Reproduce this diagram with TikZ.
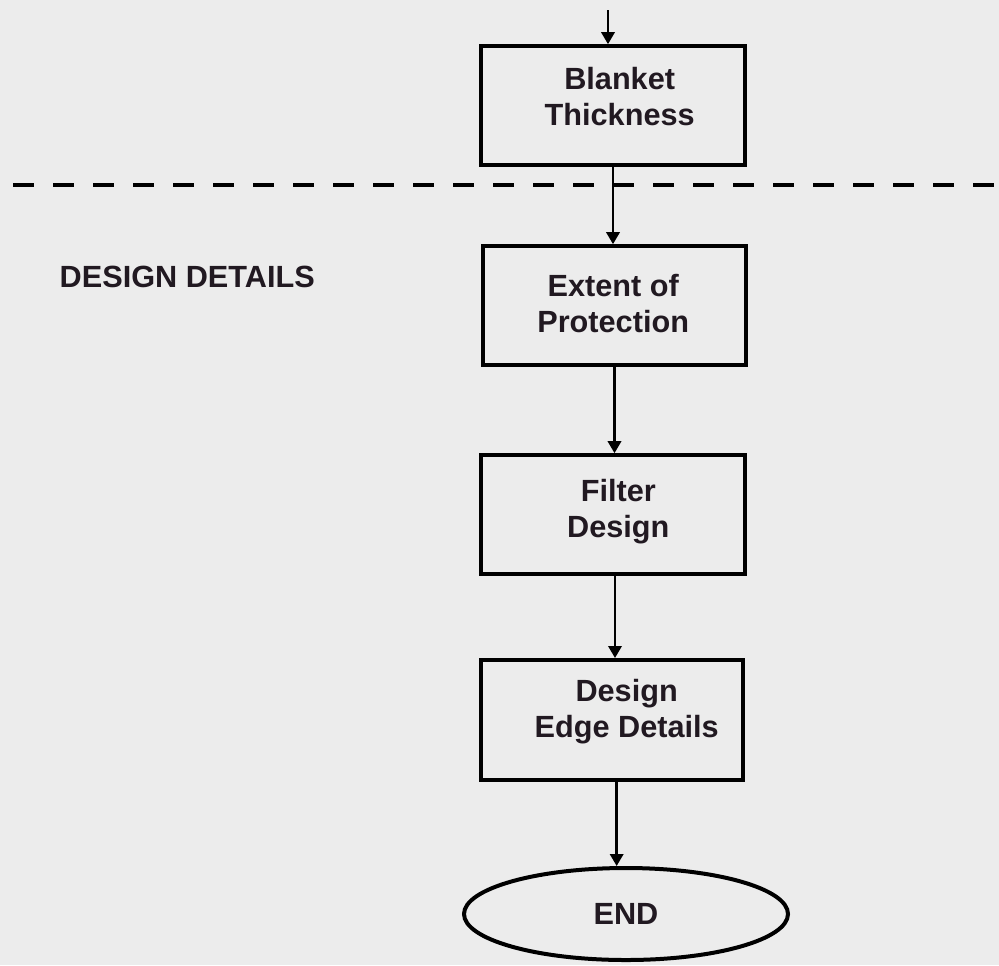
\documentclass[tikz,border=0pt]{standalone}
\usepackage{fontspec}
\setmainfont{Liberation Sans}
\usetikzlibrary{shapes.geometric,arrows.meta,calc}
\definecolor{paper}{rgb}{0.925,0.925,0.925}
\definecolor{ink}{rgb}{0.13,0.10,0.13}
\begin{document}
\begin{tikzpicture}[x=0.75pt,y=-0.75pt,
  txt/.style={font=\fontsize{23}{27}\selectfont\bfseries, text=ink, align=center},
  stepbox/.style={draw=black, line width=3pt, inner sep=0pt, rectangle},
  conn/.style={draw=black, line width=1.8pt, -{Triangle[length=9pt,width=10pt]}},
  ]
\useasboundingbox[fill=paper] (0,0) rectangle (999,965);
% dashed separator
\coordinate (dl) at (13,185);
\coordinate (dr) at (999,185);
\draw[line width=3pt, dash pattern=on 16pt off 14pt] (dl) -- (dr);
\node[txt, anchor=west] (lbl) at (55,277) {DESIGN DETAILS};
% boxes
\node[stepbox, minimum width=198pt, minimum height=89pt,
  label={[txt, xshift=5pt, yshift=6.5pt]center:Blanket\\Thickness}] (b1) at (613,105.5) {};
\node[stepbox, minimum width=197pt, minimum height=89pt,
  label={[txt, xshift=-1pt, yshift=1.5pt]center:Extent of\\Protection}] (b2) at (614.5,305.5) {};
\node[stepbox, minimum width=198pt, minimum height=89pt,
  label={[txt, xshift=4pt, yshift=2.5pt]center:Filter\\Design}] (b3) at (613,514.5) {};
\node[stepbox, minimum width=196.5pt, minimum height=90pt,
  label={[txt, xshift=11pt, yshift=6.5pt]center:Design\\Edge Details}] (b4) at (612,720) {};
\node[ellipse, draw=black, line width=3pt, inner sep=0pt,
  minimum width=243pt, minimum height=69pt, txt] (e) at (626,914) {END};
% connectors
\coordinate (top) at (608,10);
\draw[conn] (top) -- (top |- b1.north);
\draw[conn] (b1.south) -- (b1.south |- b2.north);
\draw[conn] (b2.south) -- (b2.south |- b3.north);
\draw[conn] ([xshift=1.5pt]b3.south) -- ([xshift=1.5pt]b3.south |- b4.north);
\draw[conn] ([xshift=3.5pt]b4.south) -- ([xshift=3.5pt]b4.south |- e.north);
\end{tikzpicture}
\end{document}
